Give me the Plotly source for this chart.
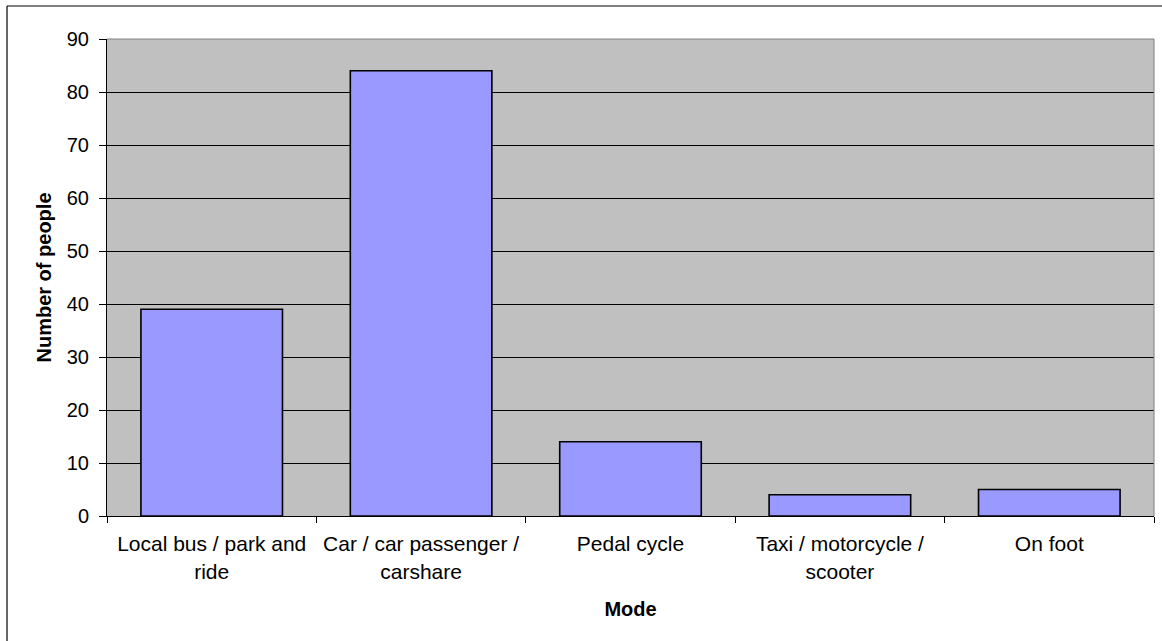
import plotly.graph_objects as go

categories = ["Local bus / park and<br>ride", "Car / car passenger /<br>carshare", "Pedal cycle",
              "Taxi / motorcycle /<br>scooter", "On foot"]
values = [39, 84, 14, 4, 5]
y_ticks = [0, 10, 20, 30, 40, 50, 60, 70, 80, 90]

FONT = "Liberation Sans, Arial, sans-serif"

fig = go.Figure(go.Bar(
    x=categories, y=values,
    marker=dict(color="#9999FF", line=dict(color="#000000", width=1.6)),
    width=0.676,
))

fig.update_layout(
    width=1162, height=641,
    margin=dict(l=107, r=8, t=39, b=125),
    paper_bgcolor="#FFFFFF", plot_bgcolor="#C0C0C0",
    font=dict(family=FONT, size=20, color="#000000"),
    showlegend=False,
    bargap=0.324,
)

fig.update_xaxes(
    type="category", tickson="boundaries", ticks="outside", ticklen=6, tickcolor="#000000",
    showline=True, linecolor="#000000", linewidth=1, showgrid=False, automargin=False,
    tickfont=dict(family=FONT, size=21), ticklabelstandoff=9,
    title=dict(text="<b>Mode</b>", font=dict(family=FONT, size=20), standoff=20),
)
fig.update_yaxes(
    range=[0, 90], tickvals=y_ticks, ticks="outside", ticklen=7, tickcolor="#000000",
    showline=True, linecolor="#000000", linewidth=1, automargin=False,
    showgrid=True, gridcolor="#000000", gridwidth=1, zeroline=False,
    tickfont=dict(family=FONT, size=20), ticklabelstandoff=6,
    title=dict(text="<b>Number of people</b>", font=dict(family=FONT, size=20), standoff=9),
)

# plot-area border (top and right, grey)
fig.add_shape(type="line", xref="paper", yref="paper", x0=0, x1=1, y0=1, y1=1,
              line=dict(color="#808080", width=1))
fig.add_shape(type="line", xref="paper", yref="paper", x0=1, x1=1, y0=0, y1=1,
              line=dict(color="#808080", width=1))
# outer chart border (top and left visible)
fig.add_shape(type="line", xref="paper", yref="paper", x0=-0.0955, x1=1.2, y0=1.0692, y1=1.0692,
              line=dict(color="#000000", width=1.2))
fig.add_shape(type="line", xref="paper", yref="paper", x0=-0.0955, x1=-0.0955, y0=-0.5, y1=1.0692,
              line=dict(color="#000000", width=1.2))

fig.write_html("out.html", config={"displayModeBar": False},
               post_script="document.body.style.margin='0';")
